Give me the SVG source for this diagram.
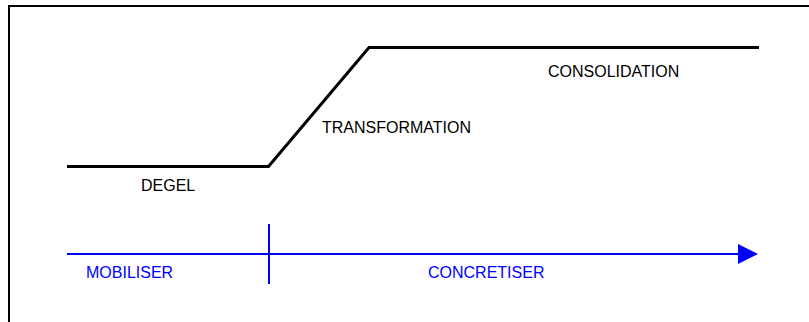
<svg xmlns="http://www.w3.org/2000/svg" width="809" height="322" viewBox="0 0 809 322">
<style>
.lbl{font-family:"Liberation Sans",Arial,sans-serif;font-size:16px;fill:#000}
.blue{fill:#0000ff}
.curve{fill:none;stroke:#000;stroke-width:3;stroke-linejoin:miter}
.axis{fill:none;stroke:#0000ff;stroke-width:2}
</style>
<defs>
<marker id="arr" markerUnits="userSpaceOnUse" markerWidth="20" markerHeight="20" refX="0" refY="10" orient="auto" viewBox="0 0 20 20">
<path d="M0,0 L20,10 L0,20 Z" fill="#0000ff"/>
</marker>
</defs>
<rect width="809" height="322" fill="#fff"/>
<path d="M9,330 V6 H815" fill="none" stroke="#000" stroke-width="2"/>
<g id="connectors">
<path class="curve" d="M67,166.5 H268.5 L369,47.5 H759"/>
<path class="axis" d="M67,254 H738" marker-end="url(#arr)"/>
<path class="axis" d="M269,224 V284"/>
</g>
<g id="degel"><text class="lbl" x="141" y="191">DEGEL</text></g>
<g id="transformation"><text class="lbl" x="322" y="133">TRANSFORMATION</text></g>
<g id="consolidation"><text class="lbl" x="548" y="77">CONSOLIDATION</text></g>
<g id="mobiliser"><text class="lbl blue" x="86" y="278">MOBILISER</text></g>
<g id="concretiser"><text class="lbl blue" x="428" y="278">CONCRETISER</text></g>
</svg>
